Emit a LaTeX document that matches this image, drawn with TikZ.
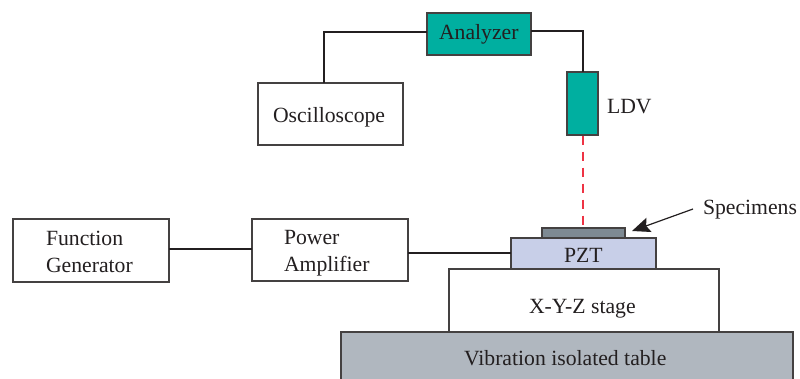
\documentclass[tikz,border=0pt]{standalone}
\usepackage{fontspec}
\setmainfont{Liberation Serif}
\usetikzlibrary{arrows.meta}
\definecolor{ink}{HTML}{231F20}
\definecolor{teal}{HTML}{00AFA0}
\definecolor{pztblue}{HTML}{C8CFE8}
\definecolor{specgrey}{HTML}{7E8A93}
\definecolor{tablegrey}{HTML}{B0B7BF}
\definecolor{beam}{HTML}{EE3344}
% text placed inside a box: left end and baseline measured from the box centre
\newcommand{\placed}[3]{\raisebox{-#2pt}[0pt][0pt]{\makebox[0pt][l]{\hspace{#1pt}#3}}}
\newcommand{\twolines}[2]{\begin{tabular}[t]{@{}l@{}}#1\\#2\end{tabular}}
\tikzset{
  box/.style={draw=ink!85,line width=1.1pt,inner sep=0pt,outer sep=0pt,text=ink,
    font=\fontsize{21.7}{27}\selectfont},
  lab/.style={inner sep=0pt,outer sep=0pt,anchor=base west,text=ink,font=\fontsize{21.7}{27}\selectfont},
  wire/.style={draw=ink,line width=2.2pt},
  ray/.style={draw=beam,line width=2.6pt,dash pattern=on 9pt off 7pt},
  pointer/.style={draw=ink,line width=1.2pt,-{Stealth[length=18pt,width=15pt,inset=3pt]}}
}
\begin{document}
\begin{tikzpicture}[x=1pt,y=-1pt]
\useasboundingbox (0,0) rectangle (800,378);
\clip (0,0) rectangle (800,378);
\fill[white] (0,0) rectangle (800,378);
% boxes
\node[box,fill=teal,minimum width=104pt,minimum height=42pt] (ana) at (479,34) {\placed{-40}{5}{Analyzer}};
\node[box,fill=white,minimum width=145pt,minimum height=62pt] (osc) at (330.5,114) {\placed{-57.5}{8}{Oscilloscope}};
\node[box,fill=teal,minimum width=31pt,minimum height=63pt] (ldv) at (582.5,103.5) {};
\node[lab] (ldvlab) at (607,113) {LDV};
\node[box,fill=white,minimum width=156pt,minimum height=63pt] (fg) at (91,250.5) {\placed{-45}{-5.5}{\twolines{Function}{Generator}}};
\node[box,fill=white,minimum width=156pt,minimum height=62pt] (pa) at (330,250) {\placed{-46}{-6}{\twolines{Power}{Amplifier}}};
\node[box,fill=white,minimum width=270pt,minimum height=63pt] (stage) at (584,300.5) {\placed{-55}{12.5}{X-Y-Z stage}};
\node[box,fill=tablegrey,minimum width=452pt,minimum height=54pt] (tbl) at (567,359) {\placed{-103}{6}{Vibration isolated table}};
\node[box,fill=pztblue,minimum width=145pt,minimum height=31pt] (pzt) at (583.5,253.5) {\placed{-19.5}{8.5}{PZT}};
\node[box,fill=specgrey,minimum width=83pt,minimum height=10pt] (spe) at (583.5,233) {};
\node[lab] (spelab) at (703,214) {Specimens};
% connector ends
\coordinate (oscT) at (324,83);
\coordinate (anaL) at (427,32);
\coordinate (anaR) at (531,31);
\coordinate (ldvT) at (583,72);
\coordinate (ldvB) at (583,135.6);
\coordinate (speT) at (583,228);
\coordinate (fgR) at (169,249);
\coordinate (paL) at (252,249);
\coordinate (paR) at (408,253);
\coordinate (pztL) at (511,253);
\coordinate (arrS) at (693,209);
\coordinate (arrE) at (632,231);
% connectors
\draw[wire] (oscT) |- (anaL);
\draw[wire] (anaR) -| (ldvT);
\draw[ray] (ldvB) -- (speT);
\draw[wire] (fgR) -- (paL);
\draw[wire] (paR) -- (pztL);
\draw[pointer] (arrS) -- (arrE);
\end{tikzpicture}
\end{document}
